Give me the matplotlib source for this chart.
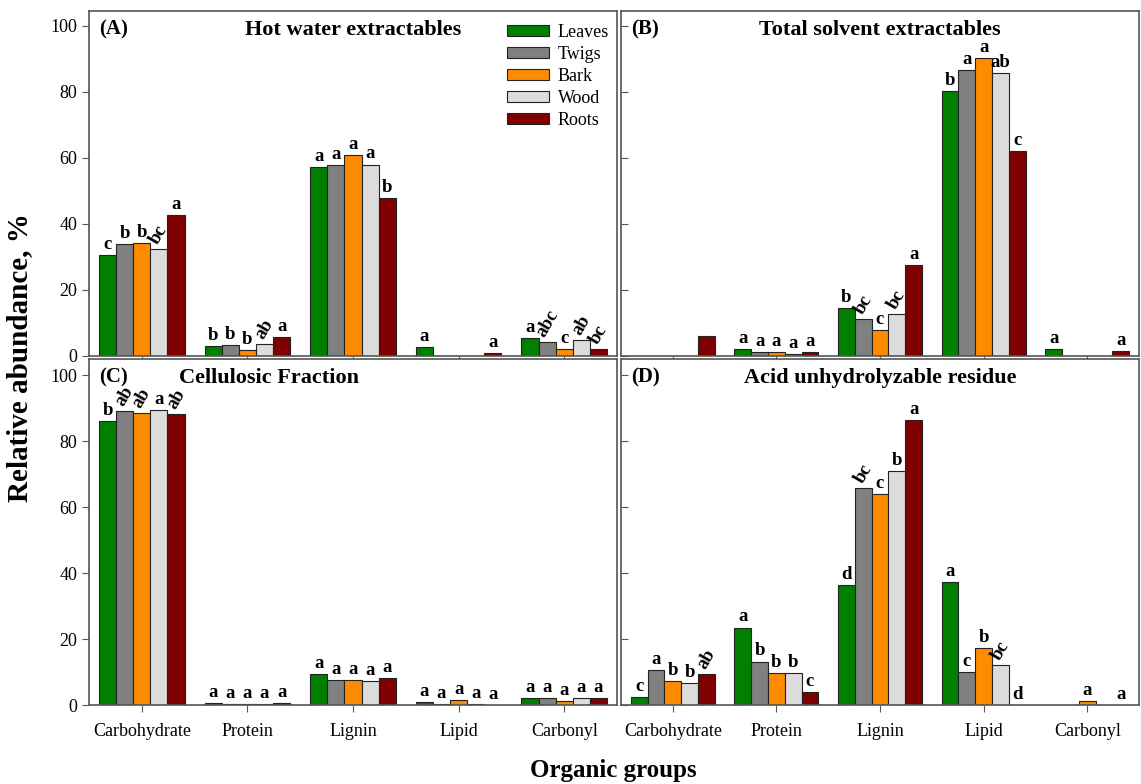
import numpy as np
import matplotlib.pyplot as plt

plt.rcParams['font.family'] = ['Liberation Serif', 'DejaVu Serif']

groups = ['Carbohydrate', 'Protein', 'Lignin', 'Lipid', 'Carbonyl']
parts = ['Leaves', 'Twigs', 'Bark', 'Wood', 'Roots']
colors = ['#008000', '#808080', '#FF8C00', '#DCDCDC', '#800000']

# values per panel: rows = parts, cols = groups
hot_water = [
    [30.6, 3.0, 57.2, 2.8, 5.4],   # Leaves
    [34.0, 3.2, 57.9, 0.0, 4.1],   # Twigs
    [34.3, 1.8, 60.9, 0.0, 2.0],   # Bark
    [32.4, 3.6, 58.0, 0.0, 4.9],   # Wood
    [42.6, 5.7, 47.8, 1.0, 2.1],   # Roots
]
solvent = [
    [0.0, 2.0, 14.5, 80.3, 2.0],
    [0.0, 1.2, 11.2, 86.6, 0.0],
    [0.0, 1.2, 7.8, 90.2, 0.0],
    [0.0, 0.7, 12.6, 85.7, 0.0],
    [6.1, 1.3, 27.6, 62.1, 1.5],
]
cellulosic = [
    [86.1, 0.7, 9.3, 0.9, 2.2],
    [89.1, 0.2, 7.5, 0.3, 2.2],
    [88.7, 0.3, 7.7, 1.5, 1.2],
    [89.4, 0.3, 7.4, 0.2, 2.1],
    [88.4, 0.6, 8.1, 0.1, 2.2],
]
residue = [
    [2.4, 23.5, 36.5, 37.3, 0.0],
    [10.7, 13.2, 65.9, 9.9, 0.0],
    [7.3, 9.6, 64.0, 17.4, 1.2],
    [6.7, 9.6, 71.0, 12.2, 0.0],
    [9.4, 3.9, 86.6, 0.0, 0.0],
]

# significance letters, same layout
hot_water_let = [
    ['c', 'b', 'a', 'a', 'a'],
    ['b', 'b', 'a', '', 'abc'],
    ['b', 'b', 'a', '', 'c'],
    ['bc', 'ab', 'a', '', 'ab'],
    ['a', 'a', 'b', 'a', 'bc'],
]
solvent_let = [
    ['', 'a', 'b', 'b', 'a'],
    ['', 'a', 'bc', 'a', ''],
    ['', 'a', 'c', 'a', ''],
    ['', 'a', 'bc', 'ab', ''],
    ['', 'a', 'a', 'c', 'a'],
]
cellulosic_let = [
    ['b', 'a', 'a', 'a', 'a'],
    ['ab', 'a', 'a', 'a', 'a'],
    ['ab', 'a', 'a', 'a', 'a'],
    ['a', 'a', 'a', 'a', 'a'],
    ['ab', 'a', 'a', 'a', 'a'],
]
residue_let = [
    ['c', 'a', 'd', 'a', ''],
    ['a', 'b', 'bc', 'c', ''],
    ['b', 'b', 'c', 'b', 'a'],
    ['b', 'b', 'b', 'bc', ''],
    ['ab', 'c', 'a', 'd', 'a'],
]
# letters drawn slanted
slanted = {
    0: [(3, 0), (3, 1), (1, 4), (3, 4), (4, 4)],
    1: [(1, 2), (3, 2)],
    2: [(1, 0), (2, 0), (4, 0)],
    3: [(4, 0), (1, 2), (3, 3)],
}

panels = [
    ('(A)', 'Hot water extractables', hot_water, hot_water_let, 0.5),
    ('(B)', 'Total solvent extractables', solvent, solvent_let, 0.5),
    ('(C)', 'Cellulosic Fraction', cellulosic, cellulosic_let, 0.34),
    ('(D)', 'Acid unhydrolyzable residue', residue, residue_let, 0.5),
]

fig = plt.figure(figsize=(11.41, 7.84), dpi=100)
W, H = 1141, 784
boxes = [
    (89, 11, 617, 356),
    (621, 11, 1139, 356),
    (89, 359, 617, 705),
    (621, 359, 1139, 705),
]

x = np.arange(len(groups))
bw = 0.162
for k, (tag, title, vals, lets, tx) in enumerate(panels):
    l, t, r, b = boxes[k]
    ax = fig.add_axes([l / W, 1 - b / H, (r - l) / W, (b - t) / H])
    for i, part in enumerate(parts):
        xs = x + (i - 2) * bw
        ax.bar(xs, vals[i], width=bw, color=colors[i], edgecolor='#222222',
               linewidth=0.8, label=part, zorder=2)
        for j in range(len(groups)):
            s = lets[i][j]
            if not s:
                continue
            rot = 60 if (i, j) in slanted[k] else 0
            ax.annotate(s, (xs[j], vals[i][j]), xytext=(0, 1.5),
                        textcoords='offset points', ha='center', va='bottom',
                        rotation=rot, fontsize=13.5, fontweight='bold')
    ax.set_xlim(-0.5, 4.5)
    ax.set_ylim(0, 104.5 if k < 2 else 105)
    ax.set_xticks(x)
    ax.set_yticks(np.arange(0, 101, 20))
    for sp in ax.spines.values():
        sp.set_color('#555555')
        sp.set_linewidth(1.2)
    if k in (0, 2):
        ax.tick_params(axis='y', direction='out', length=5, labelsize=13,
                       color='#555555')
    else:
        ax.tick_params(axis='y', direction='in', length=5, labelleft=False,
                       color='#555555')
    ax.tick_params(axis='x', direction='out', length=5, color='#555555')
    if k < 2:
        ax.set_xticklabels([])
    else:
        ax.set_xticklabels(groups, fontsize=13)
        ax.tick_params(axis='x', pad=8)
    ax.text(0.02, 0.975, tag, transform=ax.transAxes, fontsize=15,
            fontweight='bold', va='top', ha='left')
    ax.text(tx, 0.975, title, transform=ax.transAxes, fontsize=16,
            fontweight='bold', va='top', ha='center')
    if k == 0:
        ax.legend(loc='upper right', bbox_to_anchor=(1.005, 0.995),
                  frameon=False, fontsize=13, handlelength=2.3,
                  handleheight=0.55, labelspacing=0.28, handletextpad=0.5,
                  borderaxespad=0.2)

fig.text(20 / W, 1 - 358 / H, 'Relative abundance, %', rotation=90,
         fontsize=21, fontweight='bold', ha='center', va='center')
fig.text(613 / W, 1 - 770 / H, 'Organic groups', fontsize=18,
         fontweight='bold', ha='center', va='center')

fig.savefig('out.png', dpi=100)
